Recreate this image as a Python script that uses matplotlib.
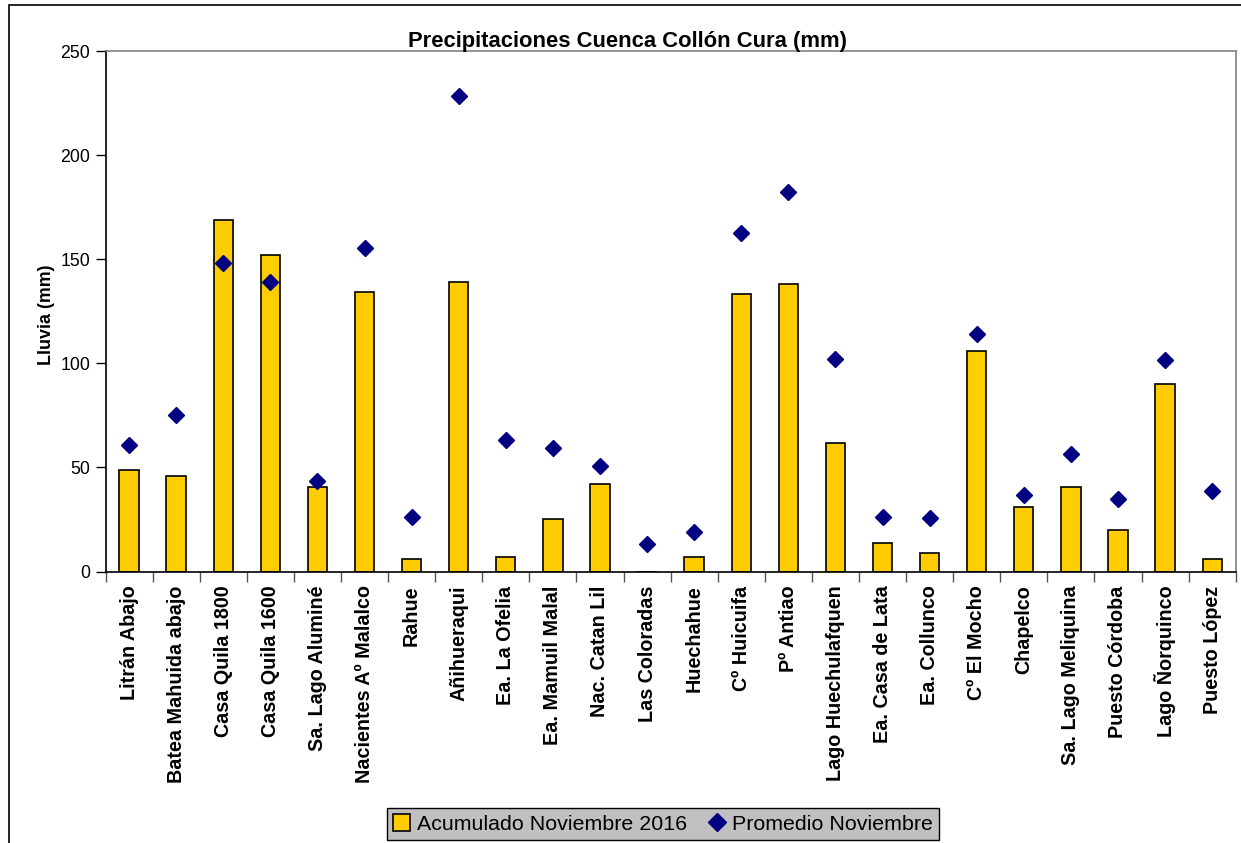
import matplotlib
matplotlib.use("Agg")
import matplotlib.pyplot as plt
from matplotlib.patches import Rectangle
from matplotlib.lines import Line2D
import numpy as np

plt.rcParams['font.family'] = ['Liberation Sans', 'DejaVu Sans']

categories = ["Litrán Abajo", "Batea Mahuida abajo", "Casa Quila 1800", "Casa Quila 1600",
              "Sa. Lago Aluminé", "Nacientes Aº Malalco", "Rahue", "Añihueraqui",
              "Ea. La Ofelia", "Ea. Mamuil Malal", "Nac. Catan Lil", "Las Coloradas",
              "Huechahue", "Cº Huicuifa", "Pº Antiao", "Lago Huechulafquen",
              "Ea. Casa de Lata", "Ea. Collunco", "Cº El Mocho", "Chapelco",
              "Sa. Lago Meliquina", "Puesto Córdoba", "Lago Ñorquinco", "Puesto López"]
acumulado = [48.8, 46, 169, 152, 40.8, 134.4, 6, 138.9, 7.1, 25.1, 42.1, 0,
             7.1, 133.1, 138.2, 61.8, 13.7, 9.1, 106, 30.9, 40.6, 19.8, 90, 6]
promedio = [60.6, 75, 148, 139, 43.4, 155.4, 26.4, 228.6, 63.2, 59.2, 50.7, 13.2,
            19.1, 162.6, 182.5, 102.2, 26.4, 25.7, 114, 36.9, 56.6, 34.9, 101.4, 38.9]
yticks = [0, 50, 100, 150, 200, 250]

W, H = 1241, 843
fig = plt.figure(figsize=(W/100, H/100), dpi=100)
ax = fig.add_axes([105.5/W, 1-571.5/H, (1235.7-105.5)/W, (571.5-51)/H])

x = np.arange(len(categories))
bar_color = '#FFCC00'
mk_color = '#000080'
ax.bar(x, acumulado, width=0.41, color=bar_color, edgecolor='black', linewidth=1.2, zorder=2)
ax.plot(x, promedio, linestyle='none', marker='D', ms=8.5, color=mk_color, zorder=3)

ax.set_xlim(-0.5, len(categories)-0.5)
ax.set_ylim(0, 250)
ax.set_yticks(yticks)
ax.set_yticklabels([str(v) for v in yticks], fontsize=12.8)
ax.tick_params(axis='y', direction='out', length=7, width=1, pad=4, colors='black')

ax.set_xticks(x)
ax.set_xticklabels(categories, rotation=90, fontsize=14.2, fontweight='bold', va='top', ha='center')
ax.tick_params(axis='x', length=0, pad=10)
ax.set_xticks(np.arange(len(categories)+1)-0.5, minor=True)
ax.tick_params(axis='x', which='minor', direction='out', length=7, width=1, color='#555555')

for s in ['left', 'bottom']:
    ax.spines[s].set_color('black')
    ax.spines[s].set_linewidth(1.2)
for s in ['top', 'right']:
    ax.spines[s].set_color('#808080')
    ax.spines[s].set_linewidth(1.2)

ax.set_ylabel('Lluvia (mm)', fontsize=12.9, fontweight='bold')
ax.yaxis.set_label_coords(-51/(1235.7-105.5), (571.5-315)/(571.5-51))

fig.text(627/W, 1-41/H, 'Precipitaciones Cuenca Collón Cura (mm)', ha='center', va='center',
         fontsize=15.8, fontweight='bold')

# outer chart border
fig.patches.append(Rectangle((9/W, -0.1), 1.2, 1-5/H+0.1, transform=fig.transFigure,
                             fill=False, edgecolor='black', linewidth=1.2))

handles = [Rectangle((0, 0), 1, 1, facecolor=bar_color, edgecolor='black', linewidth=1.2),
           Line2D([], [], linestyle='none', marker='D', ms=9, color=mk_color)]
leg = fig.legend(handles, ['Acumulado Noviembre 2016', 'Promedio Noviembre'],
                 loc='center', bbox_to_anchor=(663/W, 1-824/H), ncol=2, fontsize=15.4,
                 frameon=True, fancybox=False, edgecolor='black', facecolor='#C0C0C0',
                 handlelength=0.8, handleheight=0.8, handletextpad=0.3, columnspacing=1.0,
                 borderpad=0.3)
leg.get_frame().set_linewidth(1.0)
leg.get_frame().set_alpha(1)

fig.savefig('out.png', dpi=100)
